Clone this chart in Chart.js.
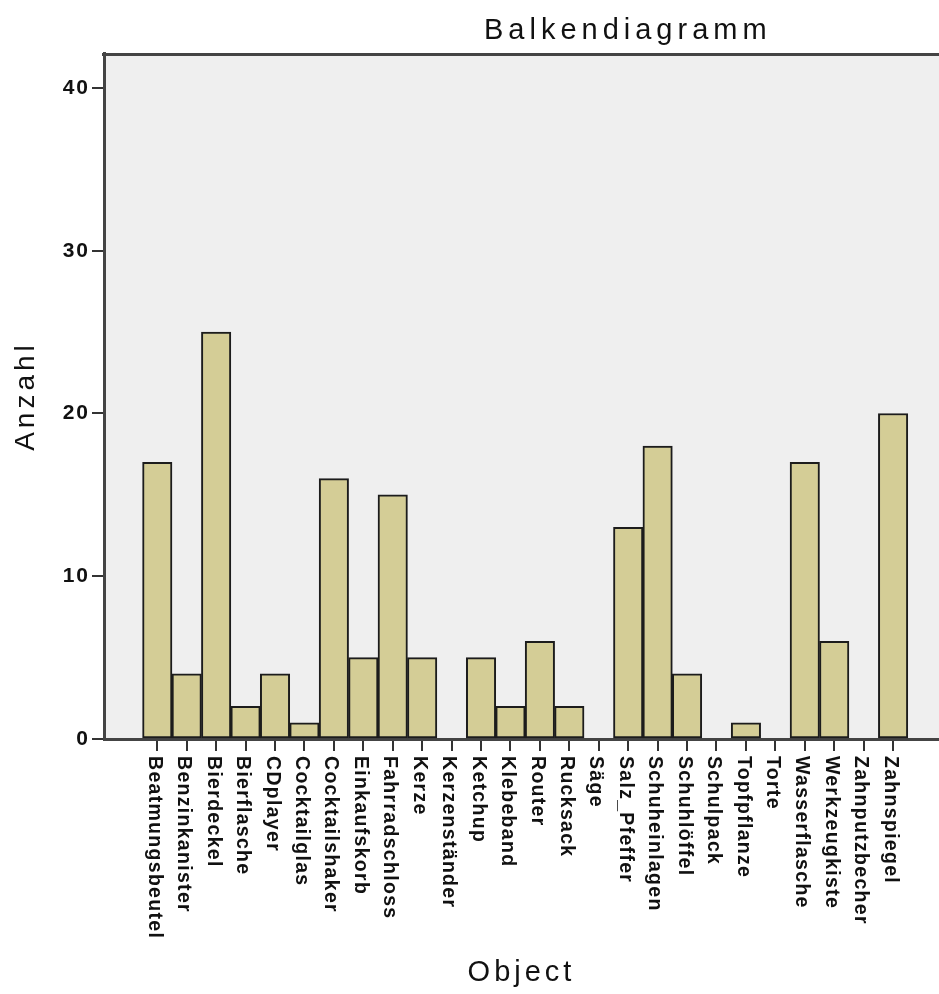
<!DOCTYPE html>
<html>
<head>
<meta charset="utf-8">
<script src="https://cdn.jsdelivr.net/npm/chart.js@4/dist/chart.umd.min.js"></script>
<style>
  body { margin: 0; background: #fff; }
  canvas { display: block; }
</style>
</head>
<body>
<canvas id="chart" width="939" height="994"></canvas>
<script>
const chartTitle = "Balkendiagramm";
const xTitle = "Object";
const yTitle = "Anzahl";

const categories = [
  "Beatmungsbeutel", "Benzinkanister", "Bierdeckel", "Bierflasche", "CDplayer",
  "Cocktailglas", "Cocktailshaker", "Einkaufskorb", "Fahrradschloss", "Kerze",
  "Kerzenständer", "Ketchup", "Klebeband", "Router", "Rucksack", "Säge",
  "Salz_Pfeffer", "Schuheinlagen", "Schuhlöffel", "Schulpack", "Topfpflanze",
  "Torte", "Wasserflasche", "Werkzeugkiste", "Zahnputzbecher", "Zahnspiegel"
];
const counts = [17, 4, 25, 2, 4, 1, 16, 5, 15, 5, 0, 5, 2, 6, 2, 0, 13, 18, 4, 0, 1, 0, 17, 6, 0, 20];
const yTicks = [0, 10, 20, 30, 40];

const FONT = "'Liberation Sans', Arial, Helvetica, sans-serif";
const axisColor = "#444";
const textColor = "#111";

// grey plot background, top frame line, letter spacing for the axis texts
const frame = {
  id: "frame",
  beforeDraw(chart) {
    const { ctx, chartArea: a } = chart;
    ctx.save();
    ctx.fillStyle = "#efefef";
    ctx.fillRect(a.left, a.top, a.right - a.left, a.bottom - a.top);
    ctx.strokeStyle = axisColor;
    ctx.lineWidth = 3;
    ctx.beginPath();
    ctx.moveTo(a.left - 2, a.top + 1.5);
    ctx.lineTo(a.right, a.top + 1.5);
    ctx.stroke();
    ctx.restore();
    ctx.letterSpacing = "4px";
  },
  afterDatasetsDraw(chart) {
    chart.ctx.letterSpacing = "2px";
  },
  afterDraw(chart) {
    const { ctx } = chart;
    const x = chart.scales.x;
    ctx.save();
    ctx.fillStyle = textColor;

    // title
    ctx.letterSpacing = "5px";
    ctx.font = "29px " + FONT;
    ctx.textAlign = "left";
    ctx.textBaseline = "alphabetic";
    ctx.fillText(chartTitle, 484, 39);

    // rotated category labels, reading top to bottom
    ctx.letterSpacing = "1.3px";
    ctx.font = "bold 19.5px " + FONT;
    ctx.textBaseline = "middle";
    categories.forEach((c, i) => {
      ctx.save();
      ctx.translate(x.getPixelForValue(i) - 3, 756);
      ctx.rotate(Math.PI / 2);
      ctx.fillText(c, 0, 0);
      ctx.restore();
    });
    ctx.restore();
    ctx.letterSpacing = "0px";
  }
};

new Chart(document.getElementById("chart"), {
  type: "bar",
  data: {
    datasets: [{
      data: categories.map((c, i) => ({ x: i, y: counts[i] })),
      backgroundColor: "#d4cd96",
      borderColor: "#1c1c1c",
      borderWidth: 2,
      borderSkipped: false,
      barPercentage: 1,
      categoryPercentage: 1
    }]
  },
  options: {
    responsive: false,
    animation: false,
    layout: { padding: { top: 53, right: 0, bottom: 0, left: 0 } },
    plugins: {
      legend: { display: false },
      tooltip: { enabled: false },
      title: { display: false }
    },
    scales: {
      x: {
        type: "linear",
        offset: false,
        min: -1.81,
        max: 26.56,
        afterBuildTicks: s => { s.ticks = categories.map((c, i) => ({ value: i })); },
        afterFit: s => { s.height = 255; },
        ticks: { display: false },
        grid: { offset: false, drawOnChartArea: false, drawTicks: true, tickLength: 12, color: "#333", lineWidth: 2 },
        border: { display: true, color: axisColor, width: 3 },
        title: {
          display: true, text: xTitle, color: textColor,
          font: { family: FONT, size: 29 },
          padding: { top: 0, bottom: 4 }
        }
      },
      y: {
        min: 0,
        max: 42.15,
        afterBuildTicks: s => { s.ticks = yTicks.map(v => ({ value: v })); },
        afterFit: s => { s.width = 104; },
        ticks: {
          z: 1,
          padding: 2,
          color: textColor,
          font: { family: FONT, size: 21, weight: "bold" }
        },
        grid: { drawOnChartArea: false, drawTicks: true, tickLength: 12, color: "#333", lineWidth: 2 },
        border: { display: true, color: axisColor, width: 3 },
        title: {
          display: true, text: yTitle, color: textColor,
          font: { family: FONT, size: 28 },
          padding: { top: 9, bottom: 0 }
        }
      }
    }
  },
  plugins: [frame]
});
</script>
</body>
</html>
